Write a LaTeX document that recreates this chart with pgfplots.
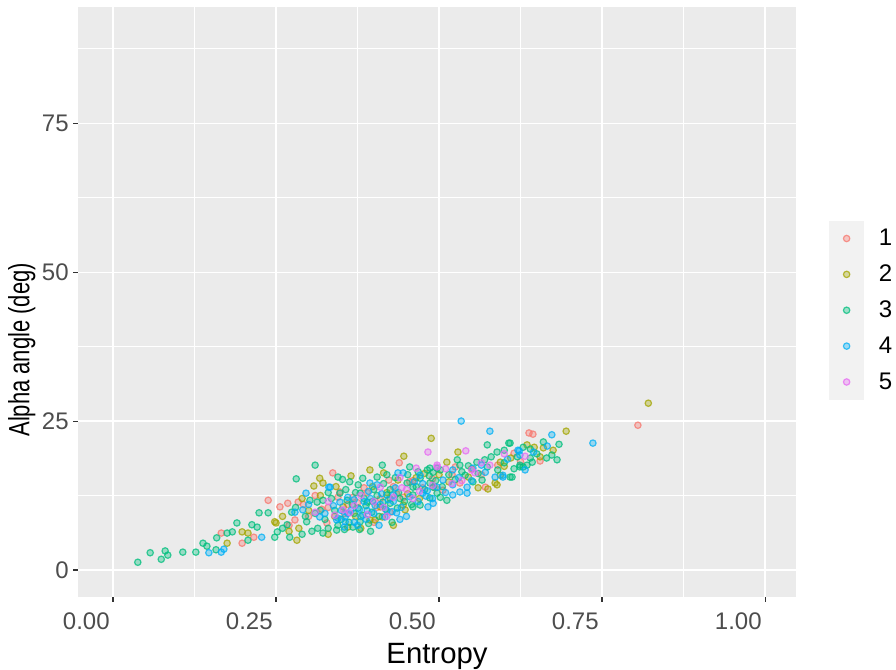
\documentclass[border=0pt]{standalone}
\usepackage{pgfplots}
\pgfplotsset{compat=1.18}
\usepackage{fontspec}
\setmainfont{Liberation Sans}
\definecolor{panel}{HTML}{EBEBEB}
\definecolor{keybg}{HTML}{F2F2F2}
\definecolor{tickc}{HTML}{333333}
\definecolor{labc}{HTML}{4D4D4D}
\definecolor{cA}{HTML}{F8766D}
\definecolor{cB}{HTML}{A3A500}
\definecolor{cC}{HTML}{00BF7D}
\definecolor{cD}{HTML}{00B0F6}
\definecolor{cE}{HTML}{E76BF3}
\pgfplotstableread{
x y
0.166 6.2
0.198 4.5
0.216 5.5
0.238 11.7
0.256 10.6
0.268 11.2
0.284 11.4
0.279 8.4
0.328 7.9
0.337 16.3
0.348 13.1
0.368 12.2
0.423 15.1
0.425 9.7
0.439 18.0
0.445 12.2
0.475 13.8
0.506 13.4
0.532 14.6
0.494 13.8
0.571 13.9
0.615 19.6
0.638 23.0
0.644 22.8
0.655 18.3
0.805 24.3
0.300 9.0
0.360 11.0
0.390 13.0
0.410 12.0
0.330 10.5
0.310 12.5
0.460 15.0
0.520 16.0
0.400 8.0
0.355 9.5
0.430 14.0
0.270 7.5
0.292 11.0
0.320 10.2
0.345 12.2
0.375 11.3
0.385 13.8
0.405 10.5
0.435 12.8
0.455 14.8
0.490 15.3
0.525 17.3
0.565 16.0
0.590 17.6
0.625 18.2
}\tA
\pgfplotstableread{
x y
0.175 4.5
0.198 6.4
0.207 6.2
0.250 7.9
0.248 8.1
0.282 5.0
0.317 15.4
0.308 14.1
0.322 14.6
0.353 10.6
0.394 16.8
0.437 15.1
0.446 19.1
0.488 22.1
0.410 10.6
0.413 8.9
0.402 8.4
0.445 10.9
0.448 10.1
0.394 8.4
0.360 7.2
0.529 19.8
0.512 18.1
0.594 18.1
0.594 15.9
0.589 14.3
0.560 13.8
0.575 13.6
0.586 14.6
0.635 21.0
0.646 20.6
0.675 20.1
0.695 23.3
0.821 28.0
0.300 10.0
0.340 9.0
0.420 13.0
0.470 12.0
0.380 7.0
0.330 6.0
0.290 12.0
0.500 16.0
0.550 17.0
0.430 7.5
0.270 6.5
0.260 9.0
0.285 7.0
0.318 12.5
0.342 14.0
0.365 15.8
0.372 9.0
0.398 14.0
0.415 16.3
0.425 12.0
0.452 12.8
0.465 15.5
0.478 16.2
0.515 14.8
0.545 15.6
0.600 17.4
0.610 18.8
0.655 19.0
0.660 20.5
}\tB
\pgfplotstableread{
x y
0.038 1.3
0.057 2.9
0.074 1.8
0.080 3.2
0.084 2.5
0.107 3.0
0.127 3.0
0.138 4.5
0.144 4.0
0.158 3.4
0.159 5.4
0.175 6.2
0.183 6.4
0.190 7.9
0.207 5.0
0.213 7.6
0.221 7.2
0.224 9.6
0.238 9.6
0.252 6.4
0.248 5.5
0.267 7.6
0.271 5.5
0.274 9.7
0.281 15.3
0.297 8.1
0.302 11.7
0.310 17.6
0.313 11.4
0.314 7.0
0.322 11.7
0.322 6.2
0.330 7.0
0.343 6.7
0.345 15.6
0.352 15.2
0.348 12.9
0.359 11.7
0.363 14.8
0.376 14.3
0.383 15.4
0.379 12.9
0.390 11.4
0.376 10.4
0.383 9.2
0.397 9.7
0.379 8.1
0.368 7.2
0.405 15.6
0.413 17.6
0.455 17.3
0.486 17.1
0.497 17.1
0.451 14.6
0.460 13.9
0.420 12.6
0.414 11.4
0.460 12.6
0.491 13.9
0.497 12.9
0.425 11.2
0.436 10.4
0.460 10.6
0.471 10.9
0.574 21.0
0.607 21.3
0.589 19.8
0.600 20.1
0.629 20.6
0.558 18.1
0.574 17.3
0.528 18.5
0.532 17.6
0.482 16.8
0.491 16.4
0.502 16.8
0.540 15.9
0.566 15.1
0.609 15.6
0.624 17.3
0.635 17.6
0.471 15.4
0.486 14.6
0.552 14.8
0.502 12.2
0.512 11.7
0.684 21.1
0.640 20.3
0.673 19.3
0.681 18.5
0.640 18.8
0.643 18.1
0.624 17.6
0.629 17.3
0.612 15.6
0.609 21.3
0.486 12.1
0.330 13.0
0.350 8.5
0.400 13.5
0.370 9.5
0.420 16.0
0.440 12.0
0.290 6.0
0.260 7.0
0.310 9.5
0.395 6.5
0.355 6.8
0.280 10.5
0.295 9.0
0.305 6.5
0.318 10.0
0.325 8.5
0.335 12.0
0.340 10.0
0.345 7.5
0.357 13.5
0.362 8.0
0.367 11.0
0.372 13.0
0.378 6.8
0.385 12.0
0.388 10.8
0.392 7.8
0.398 11.5
0.405 12.5
0.408 9.0
0.415 14.5
0.418 10.2
0.425 13.5
0.428 8.0
0.433 15.5
0.438 13.0
0.447 11.5
0.452 16.0
0.458 11.0
0.465 14.0
0.468 16.5
0.478 13.5
0.485 15.8
0.495 15.0
0.505 14.0
0.515 16.0
0.525 15.2
0.535 16.5
0.545 17.5
0.560 16.2
0.570 18.5
0.580 19.0
0.590 16.8
0.600 18.0
0.615 17.0
0.620 19.0
0.650 19.5
0.660 21.5
0.665 18.8
}\tC
\pgfplotstableread{
x y
0.147 2.9
0.166 3.0
0.170 3.5
0.228 5.5
0.279 9.7
0.291 10.1
0.296 12.9
0.317 8.9
0.331 13.9
0.345 8.7
0.356 8.9
0.437 16.3
0.445 16.3
0.471 15.9
0.394 14.6
0.405 14.3
0.430 12.6
0.475 12.9
0.480 12.4
0.333 13.9
0.348 11.4
0.360 12.2
0.483 10.6
0.491 11.2
0.343 8.4
0.356 8.1
0.534 25.0
0.578 23.3
0.621 20.1
0.624 19.3
0.521 16.8
0.552 17.1
0.571 16.4
0.586 15.6
0.598 15.6
0.506 15.1
0.521 14.3
0.543 13.9
0.497 13.9
0.490 12.0
0.521 12.6
0.532 13.1
0.543 12.9
0.673 22.7
0.736 21.3
0.666 20.8
0.623 20.0
0.632 16.8
0.417 8.9
0.435 9.6
0.598 15.9
0.380 9.0
0.390 10.0
0.400 9.5
0.410 11.0
0.370 8.0
0.420 10.0
0.430 11.5
0.385 11.5
0.365 10.0
0.395 12.0
0.440 8.5
0.450 9.0
0.360 9.5
0.355 7.2
0.375 7.5
0.300 11.0
0.325 9.5
0.338 10.8
0.350 10.0
0.370 11.8
0.378 10.2
0.388 8.5
0.392 13.2
0.402 10.8
0.408 7.5
0.412 12.8
0.422 11.8
0.428 9.8
0.433 13.8
0.442 10.5
0.455 12.3
0.462 14.8
0.468 11.5
0.475 14.5
0.482 13.3
0.510 13.0
0.530 15.5
0.550 15.0
0.565 17.6
0.605 18.6
0.645 19.8
}\tD
\pgfplotstableread{
x y
0.310 9.7
0.483 19.8
0.465 17.1
0.497 17.6
0.410 13.9
0.443 13.8
0.353 10.1
0.363 9.6
0.541 20.0
0.497 17.3
0.578 17.6
0.550 16.8
0.555 16.3
0.632 19.1
0.400 11.5
0.420 9.0
0.380 12.5
0.460 12.0
0.520 14.5
0.330 11.5
0.440 15.5
0.340 9.2
0.370 10.8
0.390 9.3
0.415 10.5
0.430 12.2
0.450 13.5
0.470 13.2
0.490 14.2
0.510 17.0
0.535 15.0
0.565 18.0
0.600 19.5
}\tE
\begin{document}
\begin{tikzpicture}
\begin{axis}[
  scale only axis,
  width=538.5pt, height=442.5pt,
  at={(58.5pt,54.75pt)}, anchor=south west,
  xmin=-0.0537, xmax=1.0475, ymin=-4.53, ymax=94.5,
  axis background/.style={fill=panel},
  axis line style={draw=none},
  xtick={0,0.25,0.5,0.75,1}, ytick={0,25,50,75},
  minor xtick={0.125,0.375,0.625,0.875},
  minor ytick={12.5,37.5,62.5,87.5},
  grid=both,
  major grid style={white, line width=0.9pt},
  minor grid style={white, line width=0.45pt},
  tick align=outside, xtick pos=bottom, ytick pos=left,
  major tick length=3.5pt, minor tick length=0pt,
  tick style={tickc, line width=0.8pt},
  xticklabel style={font=\fontsize{18}{20}\selectfont, text=labc, anchor=north east, xshift=1pt, yshift=-5pt},
  yticklabel style={font=\fontsize{18}{20}\selectfont, text=labc},
  /pgf/number format/assume math mode=true,
  xticklabel={\pgfmathprintnumber[fixed,fixed zerofill,precision=2]{\tick}},
  xlabel={Entropy}, ylabel={\scalebox{0.75}[1]{Alpha angle (deg)}},
  xlabel style={font=\fontsize{22}{24}\selectfont, yshift=-3pt},
  ylabel style={font=\fontsize{22}{24}\selectfont, yshift=-2pt, at={(ticklabel cs:0.419)}},
  legend style={at={(1.046,0.486)}, anchor=west, draw=none, fill=none,
    inner sep=0pt, outer sep=0pt, row sep=0pt,
    nodes={inner sep=0pt, font=\fontsize{18}{20}\selectfont},
    /tikz/every odd column/.append style={column sep=11pt}},
  legend cell align=left,
  legend image code/.code={
    \fill[keybg] (0pt,-13pt) rectangle (25.5pt,13pt);
    \draw[#1] plot coordinates {(12.75pt,0pt)};
  },
  every axis plot/.append style={only marks, mark=*, mark size=2.4pt, line width=0.9pt},
]
\addplot[mark options={draw=cA, fill=cA, draw opacity=0.75, fill opacity=0.35}] table[x=x,y=y]{\tA};
\addplot[mark options={draw=cB, fill=cB, draw opacity=0.75, fill opacity=0.35}] table[x=x,y=y]{\tB};
\addplot[mark options={draw=cC, fill=cC, draw opacity=0.75, fill opacity=0.35}] table[x=x,y=y]{\tC};
\addplot[mark options={draw=cD, fill=cD, draw opacity=0.75, fill opacity=0.35}] table[x=x,y=y]{\tD};
\addplot[mark options={draw=cE, fill=cE, draw opacity=0.75, fill opacity=0.35}] table[x=x,y=y]{\tE};
\legend{1,2,3,4,5}
\end{axis}
\pgfresetboundingbox
\useasboundingbox (0,0) rectangle (672pt,502.5pt);
\end{tikzpicture}
\end{document}
